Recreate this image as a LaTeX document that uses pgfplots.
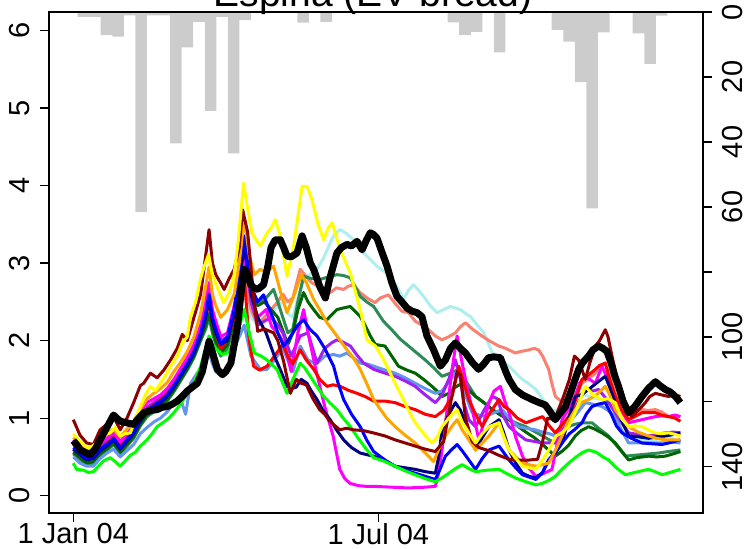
\documentclass[border=0pt]{standalone}
\usepackage{fontspec}
\setmainfont{Liberation Sans}
\usepackage{pgfplots}
\pgfplotsset{compat=1.18}
\definecolor{cdarkred}{HTML}{8B0000}
\definecolor{cred}{HTML}{FF0000}
\definecolor{csalmon}{HTML}{FA8072}
\definecolor{corange}{HTML}{FFA500}
\definecolor{cyellow}{HTML}{FFFF00}
\definecolor{cgreen}{HTML}{00FF00}
\definecolor{cdarkgreen}{HTML}{006400}
\definecolor{cseagreen}{HTML}{2E8B57}
\definecolor{cturq}{HTML}{AEEEEE}
\definecolor{ccorn}{HTML}{6495ED}
\definecolor{cblue}{HTML}{0000FF}
\definecolor{cnavy}{HTML}{000080}
\definecolor{cpurple}{HTML}{A020F0}
\definecolor{cmagenta}{HTML}{FF00FF}
\definecolor{cbar}{HTML}{CCCCCC}
\begin{document}
\begin{tikzpicture}
% precipitation bars (right axis, reversed)
\begin{axis}[
  at={(0,0)}, anchor=south west, scale only axis,
  width=327pt, height=250.5pt,
  xmin=-14.5, xmax=375.7, ymin=0, ymax=154.2, y dir=reverse,
  axis x line=none, axis y line*=right,
  axis line style={line width=0.7pt, black},
  ytick={0,20,...,140}, yticklabels={0,20,40,60,,100,,140},
  tick align=outside, major tick length=4.5pt,
  tick style={line width=0.6pt, black},
  /pgf/number format/assume math mode=true,
  yticklabel style={font=\fontsize{14.5}{16}\selectfont, inner sep=0pt, xshift=4.85pt, rotate=90, anchor=north},
]
\addplot[ybar, bar width=6.9, fill=cbar, draw=none] coordinates {
(6.0,1.5) (12.9,1.5) (19.8,7.1) (26.7,7.6) (33.6,1.0) (40.5,61.6) (47.4,1.0)
(54.3,1.0) (61.2,40.4) (68.1,10.9) (75.0,3.0) (81.9,30.4) (88.8,1.5) (95.7,43.5)
(102.6,2.5) (137.1,3.3) (150.9,3.0) (226.8,3.2) (233.7,7.1) (240.6,6.1) (254.4,12.4)
(288.9,5.5) (295.8,9.1) (302.7,21.6) (309.6,60.4) (316.5,6.3) (337.2,6.6) (344.1,16.0)
(351.0,1.1)};
\end{axis}
% series (left axis)
\begin{axis}[
  at={(0,0)}, anchor=south west, scale only axis,
  width=327pt, height=250.5pt,
  xmin=-14.5, xmax=375.7, ymin=-0.223, ymax=6.237,
  xtick={0,182}, xticklabels={1 Jan 04,1 Jul 04},
  ytick={0,1,2,3,4,5,6},
  xtick pos=bottom, ytick pos=left,
  tick align=outside, major tick length=4.5pt,
  tick style={line width=0.6pt, black},
  axis line style={line width=0.7pt, black},
  /pgf/number format/assume math mode=true,
  ticklabel style={font=\fontsize{14.5}{16}\selectfont},
  yticklabel style={inner sep=0pt, xshift=-5pt, rotate=90, anchor=south},
  xticklabel style={inner sep=0pt, anchor=north, yshift=-0.5pt},
  every axis plot/.append style={line width=1.5pt, line join=round, no marks},
]
\addplot[cturq] coordinates {(0,0.56) (4,0.49) (8,0.42) (12,0.44) (16,0.54) (20,0.6) (24,0.7) (28,0.58) (32,0.68) (36,0.76) (40,0.92) (44,1.04) (48,1.1) (52,1.16) (56,1.24) (60,1.36) (64,1.5) (68,1.64) (72,1.8) (76,2.04) (79,2.15) (81,2.3) (83,2.1) (85,1.95) (88,1.8) (92,1.9) (96,2.2) (99,2.5) (102,2.75) (104,2.5) (106,2.3) (110,2.2) (114,2.28) (118,2.35) (122,2.45) (125,2.5) (128,2.35) (131,2.3) (134,2.55) (137.4,2.79) (141,2.85) (145.4,2.92) (149,3.05) (153.3,3.26) (156,3.38) (159.3,3.43) (163,3.38) (167.2,3.30) (170,3.2) (173.2,3.13) (177,3.05) (181.2,2.96) (185,2.9) (189.1,2.83) (193,2.7) (197,2.53) (200,2.65) (203,2.72) (206,2.65) (209,2.57) (213,2.45) (217,2.36) (221,2.4) (225,2.44) (228,2.42) (231,2.40) (234,2.35) (237,2.31) (241,2.2) (245,2.10) (250,1.84) (255,1.75) (260,1.67) (264,1.58) (268,1.50) (272,1.44) (276,1.37) (280,1.25) (283.6,1.11) (288,1.1) (291.6,1.11) (295,1.25) (299.5,1.37) (303,1.32) (307.5,1.28) (311,1.26) (315.4,1.24) (319,1.2) (323.4,1.11) (327,0.95) (331.3,0.81) (335,0.75) (339.3,0.72) (343,0.71) (347.3,0.72) (351,0.75) (355.2,0.77) (359,0.72) (362.2,0.68)};
\addplot[csalmon] coordinates {(0,0.58) (4,0.52) (8,0.45) (12,0.47) (16,0.57) (20,0.63) (24,0.71) (28,0.59) (32,0.69) (36,0.79) (40,0.95) (44,1.07) (48,1.13) (52,1.19) (56,1.27) (60,1.39) (64,1.53) (68,1.67) (72,1.83) (76,2.07) (79,2.3) (81,2.5) (83,2.25) (85,2.1) (88,1.9) (92,2.0) (96,2.3) (99,2.6) (102,2.85) (104,2.6) (106,2.4) (110,2.2) (114,2.3) (118,2.4) (122,2.5) (125,2.6) (128,2.5) (131,2.55) (135.4,2.92) (138,2.85) (142,2.75) (146,2.7) (150,2.65) (153.3,2.62) (157,2.68) (161.3,2.66) (164,2.7) (167.2,2.72) (171,2.62) (175.2,2.55) (180,2.49) (183.2,2.55) (188,2.59) (192,2.48) (196,2.38) (200,2.36) (204,2.25) (208,2.2) (212,2.14) (216,2.06) (220,2.01) (224,2.05) (228,2.10) (231,2.18) (234,2.23) (238,2.15) (243.8,2.06) (248,2.0) (253.8,1.93) (258,1.9) (263.7,1.84) (267,1.86) (271.7,1.88) (275,1.9) (277.6,1.88) (280,1.8) (283.6,1.63) (285.5,1.45) (287.6,1.28) (291,1.22) (295.5,1.20) (299,1.3) (303.5,1.45) (307,1.5) (311.5,1.58) (314,1.65) (317.4,1.71) (320,1.55) (323.4,1.32) (327,1.15) (331.3,1.02) (335,1.07) (339.3,1.11) (343,1.1) (347.3,1.11) (351,1.08) (355.2,1.02) (359,1.03) (362.2,1.02)};
\addplot[cseagreen] coordinates {(0,0.54) (4,0.47) (8,0.4) (12,0.42) (16,0.52) (20,0.58) (24,0.66) (28,0.54) (32,0.64) (36,0.74) (40,0.9) (44,1.02) (48,1.08) (52,1.14) (56,1.22) (60,1.34) (64,1.48) (68,1.62) (72,1.78) (76,2.0) (79,2.15) (81,2.3) (83,2.1) (85,1.95) (88,1.8) (92,1.9) (96,2.2) (99,2.55) (102,2.95) (104,2.75) (106,2.6) (110,2.5) (115,2.55) (119.5,2.66) (122,2.5) (125,2.3) (128,2.1) (131,2.15) (134,2.5) (137.4,2.83) (142,2.8) (147.4,2.79) (152,2.82) (157.3,2.85) (161,2.84) (165.3,2.81) (168,2.7) (171.2,2.57) (175,2.5) (179.2,2.44) (185,2.25) (190,2.14) (195,2.02) (200,1.93) (205,1.84) (210,1.75) (215,1.65) (220,1.54) (225,1.58) (230,1.63) (235,1.45) (240,1.28) (245,1.2) (250,1.11) (255,1.04) (260,0.98) (265,0.93) (270,0.89) (275,0.83) (280,0.77) (284,0.72) (287.6,0.68) (291,0.78) (295.5,0.89) (299,0.92) (303.5,0.94) (309.5,0.94) (314,0.86) (319.4,0.77) (324,0.65) (329.4,0.51) (334,0.52) (339.3,0.53) (344,0.54) (349.2,0.55) (355,0.57) (362.2,0.59)};
\addplot[cdarkgreen] coordinates {(0,0.56) (4,0.49) (8,0.42) (12,0.44) (16,0.54) (20,0.6) (24,0.68) (28,0.56) (32,0.66) (36,0.76) (40,0.92) (44,1.04) (48,1.1) (52,1.16) (56,1.24) (60,1.36) (64,1.5) (68,1.64) (72,1.8) (76,2.02) (79,2.2) (81,2.35) (83,2.15) (85,2.0) (88,1.85) (92,1.95) (96,2.25) (99,2.6) (102,3.0) (104,2.8) (106,2.6) (110,2.45) (114,2.5) (118,2.4) (122,2.3) (125.5,2.1) (128,1.95) (131,2.1) (134,2.4) (137.4,2.62) (140,2.5) (143.4,2.40) (147,2.3) (151.4,2.27) (154,2.33) (157.3,2.40) (161,2.42) (165.3,2.44) (168,2.38) (171.2,2.31) (174,2.2) (177.2,2.06) (180.2,1.95) (183,1.94) (186,1.93) (190,1.8) (194,1.67) (199,1.62) (204,1.58) (209,1.5) (214,1.41) (217,1.35) (220,1.28) (224,1.32) (228,1.4) (232,1.45) (236,1.36) (240,1.28) (245,1.2) (250,1.11) (255,1.04) (260,0.98) (265,0.9) (270,0.82) (275,0.75) (280,0.66) (284,0.58) (287.6,0.51) (292,0.58) (295.5,0.65) (299.5,0.77) (303,0.84) (307.5,0.89) (311,0.86) (315.4,0.81) (319,0.76) (323.4,0.68) (327,0.58) (331.3,0.46) (336,0.49) (343.3,0.51) (348,0.5) (353.2,0.51) (358,0.54) (362.2,0.57)};
\addplot[ccorn] coordinates {(0,0.5) (4,0.42) (8,0.38) (12,0.38) (16,0.48) (20,0.55) (24,0.6) (28,0.5) (32,0.58) (36,0.66) (40,0.8) (44,0.88) (48,0.95) (52,1.0) (56,1.08) (60,1.2) (64,1.25) (67,1.05) (70,1.45) (73,1.55) (76,1.65) (79,1.75) (81,1.85) (83,1.7) (85,1.6) (88,1.55) (92,1.65) (96,1.9) (99,2.05) (102,2.2) (104,2.0) (106,1.8) (109.6,1.69) (112,1.62) (115.6,1.63) (120,1.75) (125,1.9) (128,1.75) (131,1.6) (135.4,1.93) (140,1.75) (145,1.7) (150,1.8) (155.3,1.82) (159,1.8) (163.3,1.84) (167,1.78) (171.2,1.71) (175,1.7) (179.2,1.67) (186,1.62) (192,1.58) (198,1.52) (204,1.45) (210,1.38) (216,1.32) (220,1.35) (225,1.5) (230,1.63) (234,1.3) (238,1.07) (242,1.04) (246,1.02) (250,1.06) (255.8,1.11) (260,1.0) (265.7,0.89) (270,0.87) (275.6,0.85) (280,0.82) (284,0.8) (287.6,0.77) (291,0.85) (295.5,0.94) (300,1.05) (305.5,1.20) (310,1.18) (315.4,1.15) (319,1.1) (323.4,1.02) (327,0.85) (331.3,0.68) (337,0.68) (343.3,0.68) (348,0.68) (353.2,0.68) (358,0.69) (362.2,0.68)};
\addplot[cpurple] coordinates {(0,0.66) (4,0.59) (8,0.52) (12,0.54) (16,0.64) (20,0.7) (24,0.78) (28,0.66) (32,0.76) (36,0.86) (40,1.02) (44,1.14) (48,1.2) (52,1.26) (56,1.34) (60,1.46) (64,1.6) (68,1.74) (72,1.9) (76,2.14) (79,2.4) (81,2.65) (83,2.35) (85,2.2) (88,2.0) (92,2.05) (96,2.4) (99,2.8) (102,3.25) (104,2.9) (106,2.5) (110,2.2) (114,2.25) (118,2.3) (122,2.2) (125,2.1) (130,1.8) (135.4,2.06) (140,2.1) (145.4,1.71) (150,1.9) (154,1.97) (157.3,2.01) (161,1.98) (165.3,1.93) (169,1.82) (173.2,1.71) (179.2,1.63) (186,1.58) (192,1.54) (198,1.48) (204,1.41) (210,1.3) (216,1.20) (220,1.3) (224,1.5) (228,1.75) (231,1.5) (233,1.2) (236,0.98) (240,0.89) (245,1.1) (250,1.28) (253,1.25) (256,1.05) (260,0.89) (265,0.8) (270,0.72) (275,0.7) (280,0.68) (287.6,0.68) (291,0.8) (295.5,0.98) (300,1.15) (305.5,1.37) (310,1.35) (313.4,1.37) (318,1.25) (323.4,1.07) (327,0.95) (331.3,0.81) (337,0.79) (343.3,0.77) (348,0.79) (353.2,0.81) (358,0.82) (362.2,0.81)};
\addplot[cmagenta] coordinates {(0,0.72) (4,0.62) (8,0.55) (12,0.57) (16,0.68) (20,0.74) (24,0.82) (28,0.7) (32,0.8) (36,0.9) (40,1.06) (44,1.2) (48,1.25) (52,1.3) (56,1.38) (60,1.5) (64,1.64) (68,1.78) (72,1.95) (76,2.2) (79,2.5) (81,2.75) (83,2.4) (85,2.25) (88,2.05) (92,2.1) (96,2.45) (99,2.7) (102,3.1) (104,2.8) (106,2.6) (110,2.3) (115,2.4) (118.4,2.18) (122,2.1) (126,1.95) (130,1.6) (134,2.1) (137.4,2.4) (141,2.0) (145,1.6) (150,1.15) (155,0.77) (159,0.34) (162,0.22) (165,0.16) (170,0.13) (175,0.12) (180,0.12) (190,0.11) (200,0.10) (210,0.11) (216,0.12) (218,0.3) (220,0.59) (223,1.1) (226,1.63) (229,2.06) (232,1.71) (235,1.4) (238,1.11) (242,0.72) (245,0.95) (248,1.2) (251,1.35) (254.8,1.41) (257,1.25) (260,1.07) (264,0.75) (268,0.51) (272,0.35) (276,0.25) (280,0.28) (285.6,0.34) (288,0.6) (291.6,0.98) (295,1.1) (299.5,1.28) (302,1.45) (305.5,1.54) (308,1.5) (311.5,1.45) (315.4,1.67) (319,1.5) (323.4,1.28) (327,1.1) (331.3,0.94) (335,0.96) (339.3,0.98) (343,1.0) (347.3,1.02) (351,1.03) (355.2,1.02) (359,1.04) (362.2,1.02)};
\addplot[cred] coordinates {(0,0.6) (4,0.54) (8,0.48) (12,0.49) (16,0.6) (20,0.67) (24,0.75) (28,0.63) (32,0.74) (36,0.83) (40,0.99) (44,1.11) (48,1.17) (52,1.23) (56,1.31) (60,1.43) (64,1.57) (68,1.71) (72,1.87) (76,2.1) (79,2.3) (81,2.5) (83,2.25) (85,2.1) (88,1.9) (92,2.0) (96,2.3) (99,2.55) (102,2.8) (105,2.0) (107.6,1.67) (111,1.62) (115.6,1.67) (120,1.8) (125,1.95) (128,1.8) (131,1.7) (135.4,1.88) (139,1.75) (143.4,1.63) (147,1.5) (151.4,1.41) (155,1.43) (159.3,1.41) (164,1.36) (169.3,1.32) (174,1.28) (179.2,1.22) (186,1.22) (192,1.20) (198,1.15) (204,1.11) (210,1.05) (216,1.02) (221,1.1) (226,1.28) (230,1.67) (233,1.45) (236,1.24) (240,1.05) (244,0.89) (248,1.05) (254,1.24) (257,1.15) (260,1.11) (265,1.0) (270,0.94) (275,0.98) (280,1.02) (284,0.9) (287.6,0.81) (291,0.9) (295.5,1.02) (300,1.25) (303.5,1.50) (307,1.55) (311.5,1.63) (314,1.68) (317.4,1.71) (320,1.5) (323.4,1.28) (327,1.1) (331.3,0.98) (335,1.02) (339.3,1.07) (343,1.07) (347.3,1.07) (351,1.04) (355.2,1.02) (359,1.0) (362.2,0.96)};
\addplot[cnavy] coordinates {(0,0.6) (4,0.53) (8,0.46) (12,0.48) (16,0.58) (20,0.64) (24,0.72) (28,0.6) (32,0.7) (36,0.8) (40,0.96) (44,1.08) (48,1.14) (52,1.2) (56,1.28) (60,1.4) (64,1.54) (68,1.68) (72,1.84) (76,2.06) (79,2.3) (81,2.55) (83,2.25) (85,2.1) (88,1.95) (92,2.0) (96,2.35) (99,2.8) (102,3.2) (104,2.9) (106,2.6) (110,2.3) (115,2.1) (120,1.8) (124,1.6) (127.5,1.41) (130,1.38) (133,1.4) (136,1.5) (139.4,1.45) (142,1.35) (145.4,1.24) (149,1.1) (153.3,0.98) (157,0.85) (161.3,0.72) (166,0.62) (171.2,0.55) (175,0.53) (179.2,0.51) (186,0.45) (192,0.38) (198,0.36) (204,0.34) (210,0.31) (216,0.29) (218,0.5) (220,0.85) (224,1.05) (228,1.2) (231,1.1) (234,0.94) (237,0.75) (240,0.59) (244,0.75) (248,0.89) (254,0.98) (257,0.8) (260,0.59) (264,0.42) (268,0.29) (272,0.25) (276,0.23) (280,0.3) (283.6,0.46) (288,0.56) (291.6,0.68) (295,0.95) (299.5,1.28) (303,1.3) (307.5,1.37) (312,1.45) (317.4,1.54) (320,1.4) (323.4,1.20) (327,0.98) (331.3,0.77) (337,0.76) (343.3,0.74) (348,0.76) (353.2,0.77) (358,0.79) (362.2,0.81)};
\addplot[cblue] coordinates {(0,0.62) (4,0.55) (8,0.48) (12,0.5) (16,0.6) (20,0.66) (24,0.74) (28,0.62) (32,0.72) (36,0.82) (40,0.98) (44,1.1) (48,1.16) (52,1.22) (56,1.3) (60,1.42) (64,1.56) (68,1.7) (72,1.86) (76,2.1) (79,2.35) (81,2.6) (83,2.3) (85,2.15) (88,1.95) (92,2.05) (96,2.4) (99,2.9) (102,3.35) (104,3.0) (106,2.7) (110,2.5) (113.5,2.59) (116,2.45) (119,2.3) (122,2.1) (125.5,1.93) (128,2.0) (131,2.1) (134,2.2) (137.4,2.27) (141,2.15) (145.4,2.06) (150,1.9) (155.3,1.67) (158,1.45) (161.3,1.24) (166,1.05) (171.2,0.89) (175,0.72) (179.2,0.57) (186,0.46) (192,0.38) (198,0.33) (204,0.29) (210,0.25) (216,0.21) (219,0.35) (222,0.51) (226,0.6) (229,0.66) (232,0.58) (236,0.46) (240,0.34) (244,0.48) (248,0.59) (254,0.64) (257,0.55) (260,0.46) (264,0.36) (268,0.27) (272,0.24) (276,0.21) (280,0.3) (283.6,0.46) (288,0.58) (291.6,0.68) (296,0.8) (299,0.85) (303.5,0.94) (306,1.05) (309.5,1.15) (313,1.18) (317.4,1.2) (321,1.05) (324,0.9) (327.4,0.81) (333,0.74) (339.3,0.68) (345,0.67) (351.3,0.66) (357,0.69) (362.2,0.72)};
\addplot[cgreen] coordinates {(0,0.42) (2,0.34) (6,0.33) (9,0.3) (12,0.31) (15,0.38) (18,0.45) (22,0.49) (25,0.44) (28,0.38) (31,0.45) (34,0.52) (37,0.56) (40,0.64) (44,0.72) (47,0.8) (50,0.89) (54,0.95) (57,1.0) (60,1.07) (64,1.18) (68,1.32) (72,1.45) (76,1.67) (79,1.9) (81,2.06) (83,1.95) (86,1.88) (89,1.82) (92,1.84) (95,1.95) (97,2.06) (100,2.25) (102,2.40) (105,2.1) (108,1.84) (112,1.8) (115.6,1.75) (118,1.7) (121.5,1.63) (124,1.5) (127.5,1.32) (131,1.5) (135.4,1.71) (138,1.65) (141.4,1.54) (145,1.42) (149.4,1.28) (153,1.2) (157.3,1.11) (161,1.0) (165.3,0.89) (170,0.74) (175.2,0.59) (179.2,0.49) (186,0.44) (192,0.38) (198,0.32) (204,0.27) (210,0.22) (216,0.18) (220,0.23) (224,0.29) (228,0.35) (232,0.40) (236,0.35) (240,0.31) (247,0.33) (254,0.34) (259,0.28) (263.7,0.23) (270,0.18) (276,0.14) (280,0.16) (284,0.2) (287.6,0.25) (291,0.33) (295.5,0.42) (300,0.5) (304,0.56) (307.5,0.59) (312,0.56) (316,0.5) (319.4,0.46) (324,0.36) (329.4,0.27) (335,0.3) (339,0.32) (343.3,0.34) (347,0.31) (351.3,0.27) (356,0.3) (362.2,0.34)};
\addplot[corange] coordinates {(0,0.75) (4,0.68) (8,0.6) (12,0.62) (16,0.72) (20,0.8) (24,0.86) (28,0.76) (32,0.86) (36,0.96) (40,1.12) (44,1.25) (48,1.32) (52,1.38) (56,1.46) (60,1.6) (64,1.72) (68,1.86) (72,2.05) (76,2.35) (79,2.7) (81,2.95) (83,2.6) (85,2.45) (88,2.3) (92,2.4) (96,2.6) (99,3.0) (102,3.58) (105,3.1) (108,2.85) (111.6,2.92) (115,2.88) (119.5,2.96) (124,2.6) (127.5,2.36) (132,2.6) (136,2.85) (139,2.75) (143.4,2.53) (147,2.4) (151.4,2.23) (157.3,2.06) (163.3,1.88) (167,1.78) (171.2,1.63) (175,1.45) (179.2,1.24) (183,1.12) (187,1.0) (192,0.89) (198,0.78) (204,0.68) (210,0.55) (215,0.44) (218,0.6) (222,0.77) (226,0.9) (229,0.98) (232,0.85) (236,0.72) (240,0.59) (244,0.68) (248,0.77) (254,0.94) (257,0.75) (260,0.59) (264,0.5) (268,0.42) (272,0.4) (276,0.38) (280,0.4) (283.6,0.42) (288,0.6) (291.6,0.77) (295,0.95) (299.5,1.11) (303,1.2) (307.5,1.24) (312,1.3) (317.4,1.41) (320,1.3) (323.4,1.11) (327,1.0) (331.3,0.89) (337,0.82) (343.3,0.77) (348,0.74) (353.2,0.72) (358,0.72) (362.2,0.72)};
\addplot[cdarkred] coordinates {(0,0.98) (4,0.78) (8,0.68) (12,0.66) (16,0.85) (20,0.92) (24,1.02) (28,0.85) (32,1.0) (36,1.2) (40,1.42) (42,1.45) (46,1.58) (50,1.52) (54,1.62) (58,1.75) (62,1.9) (65,2.08) (68,2.0) (72,2.3) (76,2.6) (79,3.1) (81,3.43) (83,3.0) (85,2.85) (88,2.74) (90,2.66) (93,2.8) (96,2.92) (99,3.2) (101,3.69) (104,3.4) (107.6,2.57) (110,2.12) (114,2.15) (119.5,2.10) (122,2.0) (125.5,1.73) (129.5,1.32) (133,1.5) (136,1.45) (139,1.43) (143,1.25) (147,1.11) (150,1.05) (153,0.96) (159,0.85) (163,0.87) (167,0.85) (173,0.84) (179,0.81) (186,0.77) (192,0.72) (198,0.68) (204,0.64) (210,0.6) (216,0.57) (221,0.7) (226,1.3) (229,1.6) (231,1.55) (234,1.0) (238,0.7) (242,0.62) (248,0.58) (254,0.52) (260,0.47) (266,0.46) (272,0.46) (277,0.47) (280,0.7) (283,1.0) (287,0.98) (292,1.25) (296,1.5) (299,1.8) (301.5,1.75) (305.5,1.5) (308,1.7) (311.5,1.93) (314,2.0) (317.4,2.14) (319,2.05) (321.4,1.8) (324,1.55) (327.4,1.28) (330,1.12) (333.3,1.02) (337,1.1) (341.3,1.2) (344,1.28) (347.3,1.32) (351,1.3) (355.2,1.28) (359,1.3) (362.2,1.28)};
\addplot[cyellow] coordinates {(0,0.8) (4,0.7) (8,0.62) (10,0.62) (14,0.68) (18,0.78) (22,0.81) (25,0.88) (28,0.77) (31,0.8) (34,0.81) (37,0.98) (40,1.15) (43,1.3) (46,1.41) (49,1.35) (52,1.45) (55,1.55) (58,1.67) (62,1.80) (65,1.97) (68,2.05) (70,2.31) (73,2.5) (75.8,2.79) (78,2.95) (80.7,3.11) (83,2.85) (85.7,2.70) (89.7,2.49) (92.5,2.6) (95.6,2.79) (98.5,3.3) (101.6,4.03) (104,3.7) (106.6,3.39) (109,3.3) (111.6,3.22) (115.6,3.39) (118,3.45) (120.5,3.56) (123.5,3.35) (127.5,2.83) (131.5,3.22) (134,3.6) (136.5,3.99) (139.4,3.99) (142.4,3.82) (146,3.5) (149.4,3.30) (152,3.45) (154.4,3.52) (159.3,3.17) (165.3,2.87) (171.2,2.40) (175.2,2.01) (180.2,1.93) (184,1.8) (188,1.63) (192,1.45) (196,1.28) (200,1.1) (204,0.94) (209,0.8) (214,0.68) (217,0.75) (220,0.89) (224,1.0) (229,1.11) (232,0.95) (236,0.81) (240,0.68) (244,0.8) (248,0.89) (254,0.94) (257,0.75) (260,0.59) (264,0.48) (268,0.38) (272,0.36) (276,0.34) (280,0.46) (284,0.6) (288,0.77) (292,0.82) (295.5,0.89) (300,1.1) (305.5,1.41) (310,1.3) (315.5,1.24) (319,1.25) (323.4,1.20) (327,1.0) (331.3,0.89) (335,0.9) (339.3,0.89) (343,0.85) (347.3,0.81) (351,0.8) (355.2,0.81) (359,0.79) (362.2,0.77)};
\addplot[black, line width=3.5pt] coordinates {(0,0.71) (2,0.66) (4.2,0.59) (7,0.56) (10,0.53) (13,0.6) (16,0.72) (20,0.88) (24,1.04) (26,1.0) (28,0.96) (32,0.94) (36,0.92) (39,1.0) (42,1.07) (46,1.1) (50,1.11) (53,1.14) (56,1.15) (59,1.18) (62,1.22) (65,1.28) (68,1.35) (71,1.4) (74,1.45) (77,1.6) (79,1.8) (81,1.99) (83,1.85) (86,1.63) (89,1.56) (91,1.6) (94,1.71) (96,1.95) (98,2.18) (100,2.6) (102,2.92) (104,2.85) (106,2.72) (107.6,2.68) (110,2.66) (113.5,2.72) (116,2.95) (118,3.2) (120.5,3.30) (123.5,3.30) (125.5,3.2) (127.5,3.09) (130,3.08) (133.5,3.13) (136.5,3.35) (139,3.2) (141.4,3.0) (143.4,2.92) (147,2.7) (150.4,2.55) (153,2.8) (157.3,3.13) (160,3.2) (163.3,3.24) (166,3.22) (169.3,3.28) (172.3,3.17) (175,3.3) (177.2,3.39) (179,3.37) (181.2,3.32) (184,3.15) (187.2,2.96) (190,2.75) (193.1,2.57) (196,2.5) (199.1,2.42) (202,2.38) (205.1,2.36) (208,2.31) (211,2.06) (215,1.88) (219,1.67) (222,1.75) (225,1.9) (228,1.97) (231,1.9) (234,1.84) (238,1.72) (241.8,1.63) (245,1.7) (247.8,1.78) (251,1.79) (254.8,1.78) (258,1.6) (260,1.5) (263.7,1.37) (268,1.3) (273.7,1.24) (278,1.2) (281.6,1.17) (284,1.1) (287.6,0.98) (290,1.05) (293.6,1.15) (297,1.35) (301.5,1.63) (304,1.72) (307.5,1.80) (310,1.88) (313.4,1.93) (316,1.9) (318.4,1.86) (321,1.7) (323,1.55) (325.3,1.41) (328,1.22) (331.3,1.07) (335,1.15) (339.3,1.28) (343,1.38) (347.3,1.47) (350,1.42) (353.2,1.37) (356,1.34) (358.2,1.30) (360,1.26) (362.2,1.20)};
\end{axis}
\node[anchor=base, inner sep=0pt, font=\fontsize{19.5}{22}\selectfont] at (162pt,253.5pt) {Espina (EV bread)};
\pgfresetboundingbox
\useasboundingbox (-24.5pt,-17.5pt) rectangle (350.5pt,256.5pt);
\end{tikzpicture}
\end{document}
